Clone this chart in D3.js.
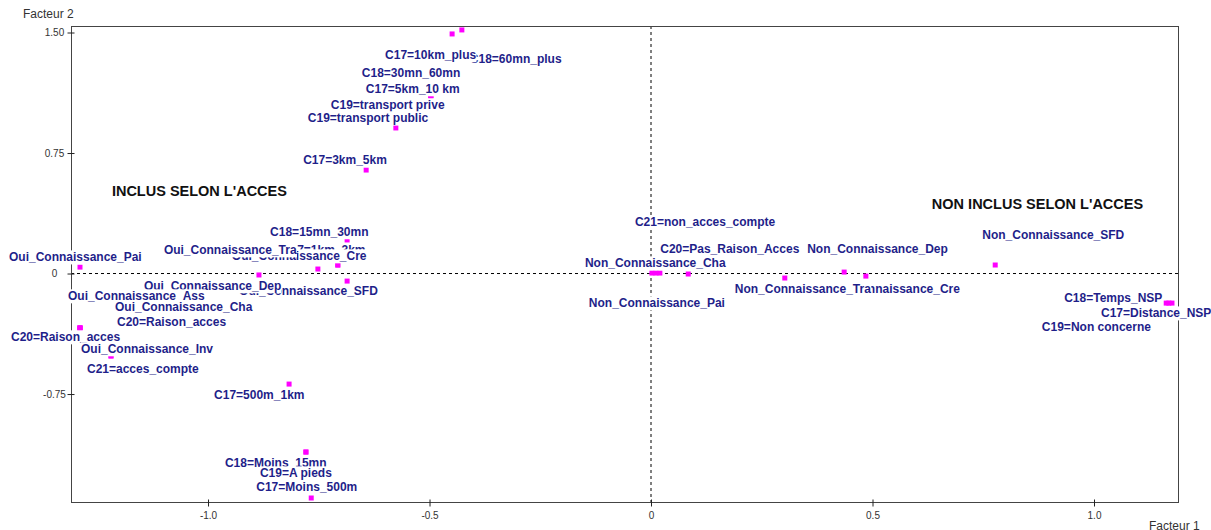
<!DOCTYPE html>
<html>
<head>
<meta charset="utf-8">
<script src="https://cdn.jsdelivr.net/npm/d3@7"></script>
<style>
  html, body { margin: 0; padding: 0; background: #fff; }
  svg { display: block; }
</style>
</head>
<body>
<svg id="chart" width="1211" height="530"></svg>
<script>
// Modalities of the factorial map, in drawing order
const modalities = [
  "C18=60mn_plus", "C17=10km_plus", "C18=30mn_60mn", "C19=transport prive",
  "C17=5km_10 km", "C19=transport public", "C17=3km_5km", "C18=15mn_30mn",
  "C17=1km_3km", "Oui_Connaissance_Cre", "Oui_Connaissance_Tra", "Oui_Connaissance_Pai",
  "Oui_Connaissance_SFD", "Oui_Connaissance_Dep", "Oui_Connaissance_Ass", "Oui_Connaissance_Cha",
  "C20=Raison_acces", "C20=Raison_acces", "Oui_Connaissance_Inv", "C21=acces_compte",
  "C17=500m_1km", "C18=Moins_15mn", "C19=A pieds", "C17=Moins_500m",
  "Non_Connaissance_Cha", "Non_Connaissance_Pai", "C21=non_acces_compte", "C20=Pas_Raison_Acces",
  "Non_Connaissance_Dep", "Non_Connaissance_Cre", "Non_Connaissance_Tra", "Non_Connaissance_SFD",
  "C18=Temps_NSP", "C19=Non concerne", "C17=Distance_NSP"
];

// Coordinates on factor 1 (horizontal)
const factor1 = [
  -0.427, -0.449, -0.497, -0.497,
  -0.497, -0.576, -0.643, -0.686,
  -0.707, -0.707, -0.752, -1.289,
  -0.686, -0.885, -1.289, -1.289,
  -1.289, -1.289, -1.219, -1.219,
  -0.817, -0.779, -0.779, -0.767,
  0.002, 0.020, 0.011, 0.084,
  0.436, 0.485, 0.302, 0.777,
  1.163, 1.169, 1.176
];

// Coordinates on factor 2 (vertical)
const factor2 = [
  1.516, 1.491, 1.105, 1.105,
  1.105, 0.906, 0.644, 0.209,
  0.053, 0.053, 0.028, 0.040,
  -0.047, -0.009, -0.339, -0.339,
  -0.339, -0.339, -0.513, -0.513,
  -0.688, -1.111, -1.111, -1.397,
  0.003, 0.003, 0.003, -0.003,
  0.009, -0.016, -0.028, 0.053,
  -0.184, -0.184, -0.184
];

// Label placement: pixel offset of each label's start from its point
const labelOffsets = [
  [8, 29], [-67, 21], [-69, -23], [-100, 9],
  [-65, -7], [-88, -10], [-63, -10], [-77, -8],
  [-56, -15], [-106, -9], [-154, -19], [-71, -10],
  [-108, 10], [-115, 11], [-12, -32], [35, -21],
  [-69, 9], [37, -6], [-30, -7], [-24, 13],
  [-75, 11], [-81, 11], [-46, 21], [-55, -11],
  [-67, -10], [-71, 30], [-21, -51], [-28, -25],
  [-37, -23], [-44, 13], [-50, 11], [-13, -30],
  [-102, -5], [-127, 24], [-71, 10]
];

// Group annotations
const groupNames = ["INCLUS SELON L'ACCES", "NON INCLUS SELON L'ACCES"];
const groupF1 = [-1.217, 0.634];
const groupF2 = [0.513, 0.433];

// Axis ticks
const xTicks = [-1.0, -0.5, 0, 0.5, 1.0];
const xTickLabels = ["-1.0", "-0.5", "0", "0.5", "1.0"];
const yTicks = [1.5, 0.75, 0, -0.75];
const yTickLabels = ["1.50", "0.75", "0", "-0.75"];

const svg = d3.select("#chart");
const plot = { left: 71, right: 1178, top: 26, bottom: 502 };

const x = d3.scaleLinear().domain([-1.3093, 1.1896]).range([plot.left, plot.right]);
const y = d3.scaleLinear().domain([1.5405, -1.4219]).range([plot.top, plot.bottom]);

const FONT = "'Liberation Sans', Arial, Helvetica, sans-serif";

svg.append("rect").attr("width", 1211).attr("height", 530).attr("fill", "#fff");

// Zero lines
svg.append("line")
  .attr("x1", plot.left).attr("x2", plot.right)
  .attr("y1", y(0)).attr("y2", y(0))
  .attr("stroke", "#000").attr("stroke-width", 1).attr("stroke-dasharray", "3,3");
svg.append("line")
  .attr("x1", x(0)).attr("x2", x(0))
  .attr("y1", plot.top).attr("y2", plot.bottom)
  .attr("stroke", "#000").attr("stroke-width", 1).attr("stroke-dasharray", "3,3");

// Frame
svg.append("rect")
  .attr("x", plot.left + 0.5).attr("y", plot.top + 0.5)
  .attr("width", plot.right - plot.left).attr("height", plot.bottom - plot.top)
  .attr("fill", "none").attr("stroke", "#444").attr("stroke-width", 1);

// Left axis
const yAxis = svg.append("g")
  .attr("transform", `translate(${plot.left + 0.5},0)`)
  .call(d3.axisLeft(y).tickValues(yTicks).tickSize(4)
    .tickFormat((d, i) => yTickLabels[i]));
yAxis.select(".domain").remove();
yAxis.selectAll(".tick line").attr("x1", -4).attr("x2", 3).attr("stroke", "#222");
yAxis.selectAll(".tick text")
  .attr("x", -17).attr("dy", "0.34em")
  .attr("text-anchor", "middle")
  .attr("font-family", FONT).attr("font-size", 10).attr("fill", "#333");

// Bottom axis
const xAxis = svg.append("g")
  .attr("transform", `translate(0,${plot.bottom + 0.5})`)
  .call(d3.axisBottom(x).tickValues(xTicks).tickSize(4)
    .tickFormat((d, i) => xTickLabels[i]));
xAxis.select(".domain").remove();
xAxis.selectAll(".tick line").attr("y1", -3).attr("y2", 4).attr("stroke", "#222");
xAxis.selectAll(".tick text")
  .attr("y", 13).attr("dy", "0.34em")
  .attr("font-family", FONT).attr("font-size", 10).attr("fill", "#333");

// Axis titles
svg.append("text").attr("x", 23).attr("y", 18)
  .attr("font-family", FONT).attr("font-size", 12).attr("fill", "#333")
  .text("Facteur 2");
svg.append("text").attr("x", 1149).attr("y", 530)
  .attr("font-family", FONT).attr("font-size", 12).attr("fill", "#333")
  .text("Facteur 1");

// Points
const points = modalities.map((name, i) => ({
  name, f1: factor1[i], f2: factor2[i], off: labelOffsets[i]
}));

svg.append("g").selectAll("rect")
  .data(points)
  .join("rect")
  .attr("x", d => x(d.f1) - 2.5)
  .attr("y", d => y(d.f2) - 2.5)
  .attr("width", 5).attr("height", 5)
  .attr("fill", "#ff00ff");

// Labels, each on its own white box; later labels cover earlier ones
const labelLayer = svg.append("g");
points.forEach(d => {
  const g = labelLayer.append("g");
  const bg = g.append("rect").attr("fill", "#fff");
  const t = g.append("text")
    .attr("x", x(d.f1) + d.off[0])
    .attr("y", y(d.f2) + d.off[1])
    .attr("dy", "0.36em")
    .attr("font-family", FONT)
    .attr("font-size", 12)
    .attr("font-weight", "bold")
    .attr("fill", "#1f1f8a")
    .text(d.name);
  const b = t.node().getBBox();
  bg.attr("x", b.x).attr("y", b.y).attr("width", b.width).attr("height", b.height);
});

// Group annotations
svg.append("g").selectAll("text")
  .data(groupNames)
  .join("text")
  .attr("x", (d, i) => x(groupF1[i]))
  .attr("y", (d, i) => y(groupF2[i]))
  .attr("dy", "0.36em")
  .attr("font-family", FONT)
  .attr("font-size", 14.5)
  .attr("font-weight", "bold")
  .attr("fill", "#111")
  .text(d => d);
</script>
</body>
</html>
